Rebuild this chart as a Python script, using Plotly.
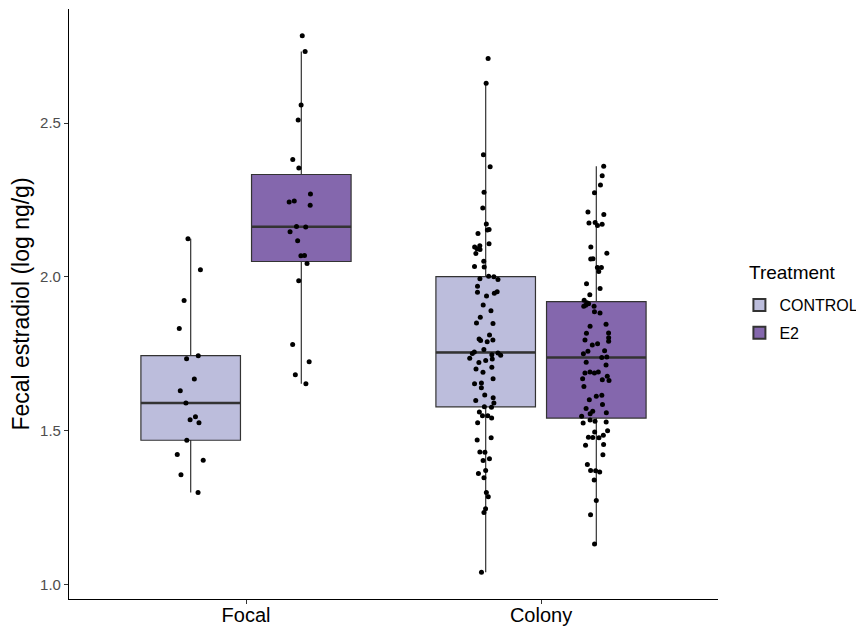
import numpy as np
import plotly.graph_objects as go

groups = ["Focal", "Colony"]
treatments = ["CONTROL", "E2"]
fill_colors = {"CONTROL": "#BCBDDC", "E2": "#8467AD"}

focal_control = [2.124, 2.023, 1.923, 1.832, 1.744, 1.734, 1.668, 1.630, 1.590, 1.545,
                 1.536, 1.526, 1.469, 1.423, 1.404, 1.357, 1.299]
focal_e2 = [2.784, 2.733, 2.559, 2.510, 2.382, 2.354, 2.270, 2.247, 2.244, 2.233, 2.164,
            2.162, 2.147, 2.118, 2.070, 2.069, 2.044, 1.988, 1.780, 1.724, 1.682, 1.653]
colony_control = [2.710, 2.630, 2.397, 2.358, 2.275, 2.224, 2.172, 2.154, 2.153, 2.141,
                  2.108, 2.101, 2.097, 2.092, 2.089, 2.076, 2.051, 2.034, 2.032,
                  2.002, 2.001, 1.994, 1.992, 1.970, 1.952, 1.950, 1.947, 1.938, 1.909,
                  1.890, 1.869, 1.850, 1.849, 1.811, 1.798, 1.795, 1.793, 1.789,
                  1.764, 1.756, 1.753, 1.751, 1.747, 1.745, 1.736, 1.733, 1.728, 1.722,
                  1.706, 1.701, 1.690, 1.669, 1.655, 1.653, 1.640, 1.616, 1.607, 1.598,
                  1.590, 1.578, 1.576,
                  1.561, 1.549, 1.549, 1.541, 1.526, 1.477, 1.470, 1.431, 1.430, 1.409,
                  1.403, 1.371, 1.361, 1.347, 1.299, 1.285, 1.246, 1.234, 1.040]
colony_e2 = [2.360, 2.329, 2.299, 2.274, 2.211, 2.203, 2.177, 2.175, 2.171, 2.167, 2.097,
             2.077, 2.059, 2.058, 2.031, 2.031, 2.018, 1.978, 1.962, 1.942, 1.924,
             1.916, 1.913, 1.908, 1.905, 1.905, 1.887, 1.883, 1.846, 1.840, 1.818, 1.817,
             1.802, 1.795, 1.791, 1.783, 1.779, 1.760, 1.758, 1.750,
             1.740, 1.738,
             1.723, 1.714, 1.691, 1.691, 1.688, 1.688, 1.677, 1.669, 1.666, 1.663, 1.644,
             1.615, 1.612, 1.601, 1.585, 1.572, 1.563, 1.558, 1.555, 1.547,
             1.535, 1.531, 1.528, 1.525, 1.500, 1.496, 1.485, 1.479, 1.478, 1.477, 1.455,
             1.453, 1.422, 1.390, 1.371, 1.370, 1.366, 1.340, 1.273, 1.227, 1.132]

y_ticks = [1.0, 1.5, 2.0, 2.5]

data = {
    "CONTROL": {"Focal": focal_control, "Colony": colony_control},
    "E2": {"Focal": focal_e2, "Colony": colony_e2},
}


def gg_stats(vals):
    a = np.sort(np.asarray(vals))
    q1, med, q3 = np.percentile(a, [25, 50, 75])
    iqr = q3 - q1
    lo = a[a >= q1 - 1.5 * iqr].min()
    hi = a[a <= q3 + 1.5 * iqr].max()
    return q1, med, q3, lo, hi


FONT = "Liberation Sans, Arial, Helvetica, sans-serif"
fig = go.Figure()

# boxes
for t in treatments:
    st = [gg_stats(data[t][g]) for g in groups]
    fig.add_trace(go.Box(
        x=groups, q1=[s[0] for s in st], median=[s[1] for s in st], q3=[s[2] for s in st],
        lowerfence=[s[3] for s in st], upperfence=[s[4] for s in st],
        name=t, offsetgroup=t, legendgroup=t, fillcolor=fill_colors[t],
        line=dict(color="#333333", width=1.2), whiskerwidth=0, boxpoints=False,
        hoverinfo="skip",
    ))

# thicker median lines (ggplot fatten)
for t in treatments:
    meds = [float(np.median(data[t][g])) for g in groups]
    fig.add_trace(go.Box(
        x=groups, q1=meds, median=meds, q3=meds, lowerfence=meds, upperfence=meds,
        name=t + " median", offsetgroup=t, legendgroup=t, fillcolor="rgba(0,0,0,0)",
        line=dict(color="#333333", width=2.6), whiskerwidth=0, boxpoints=False,
        showlegend=False, hoverinfo="skip",
    ))

# jittered points
for t in treatments:
    xs, ys = [], []
    for g in groups:
        xs += [g] * len(data[t][g])
        ys += list(data[t][g])
    fig.add_trace(go.Box(
        x=xs, y=ys, name=t + " points", offsetgroup=t, legendgroup=t,
        boxpoints="all", jitter=0.33, pointpos=0,
        fillcolor="rgba(0,0,0,0)", line=dict(color="rgba(0,0,0,0)", width=0),
        whiskerwidth=0, marker=dict(color="black", size=5),
        showlegend=False,
    ))

all_vals = np.concatenate([np.asarray(data[t][g]) for t in treatments for g in groups])
vmin, vmax = all_vals.min(), all_vals.max()
pad = 0.05 * (vmax - vmin)

# page body adds an 8px offset, so the figure is sized to fit the 864x627 window
fig.update_layout(
    width=856, height=619,
    margin=dict(l=61, r=143, t=1, b=28),
    paper_bgcolor="white", plot_bgcolor="white",
    boxmode="group", boxgap=0.25, boxgroupgap=0.1,
    font=dict(family=FONT, color="black"),
    showlegend=True,
    legend=dict(
        font=dict(size=16, color="black"),
        x=1.033, xanchor="left", y=0.527, yanchor="top",
        traceorder="grouped", tracegroupgap=4, itemsizing="constant",
    ),
    annotations=[dict(
        text="Treatment", x=1.045, y=0.554, xref="paper", yref="paper",
        xanchor="left", yanchor="middle", showarrow=False,
        font=dict(size=19, color="black"),
    )],
)
fig.update_xaxes(
    type="category", categoryorder="array", categoryarray=groups,
    range=[-0.6, 1.6], showline=True, linecolor="black", linewidth=1.1,
    ticks="outside", ticklen=4, tickcolor="#333333", automargin=False,
    ticklabelstandoff=-6,
    tickfont=dict(size=20, color="black"), showgrid=False, zeroline=False,
)
fig.update_yaxes(
    range=[vmin - pad, vmax + pad], tickvals=y_ticks, tickformat=".1f",
    showline=True, linecolor="black", linewidth=1.1, automargin=False,
    ticks="outside", ticklen=4, tickcolor="#333333",
    tickfont=dict(size=15, color="#4D4D4D"), showgrid=False, zeroline=False,
    title=dict(text="Fecal estradiol (log ng/g)", font=dict(size=23, color="black"), standoff=4),
)

fig.write_html("out.html")
